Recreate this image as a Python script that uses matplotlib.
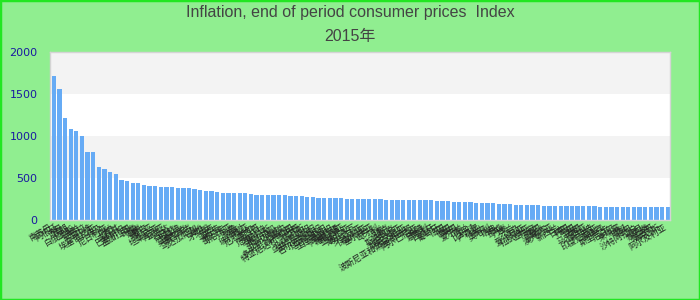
import matplotlib
matplotlib.use('Agg')
import matplotlib.pyplot as plt
from matplotlib.patches import Rectangle

countries = [
    '南苏丹', '阿根廷', '苏丹', '伊朗', '白俄罗斯', '乌克兰', '安哥拉', '马拉维', '埃塞俄比亚', '埃及',
    '尼日利亚', '加纳', '土耳其', '巴基斯坦', '孟加拉国', '印度', '越南', '蒙古', '赞比亚', '坦桑尼亚',
    '肯尼亚', '乌干达', '卢旺达', '布隆迪', '莫桑比克', '津巴布韦', '马达加斯加', '海地', '牙买加', '巴西',
    '乌拉圭', '巴拉圭', '哥伦比亚', '秘鲁', '智利', '玻利维亚', '厄瓜多尔', '墨西哥', '危地马拉', '洪都拉斯',
    '尼加拉瓜', '哥斯达黎加', '巴拿马', '多米尼加共和国', '特立尼达和多巴哥', '俄罗斯', '哈萨克斯坦', '乌兹别克斯坦', '吉尔吉斯斯坦', '塔吉克斯坦',
    '土库曼斯坦', '阿塞拜疆', '格鲁吉亚', '亚美尼亚', '摩尔多瓦', '罗马尼亚', '保加利亚', '塞尔维亚', '匈牙利', '波兰',
    '捷克', '斯洛伐克', '克罗地亚', '斯洛文尼亚', '波斯尼亚和黑塞哥维那', '阿尔巴尼亚', '希腊', '意大利', '西班牙', '葡萄牙',
    '法国', '德国', '英国', '爱尔兰', '荷兰', '比利时', '卢森堡', '瑞士', '奥地利', '瑞典',
    '挪威', '丹麦', '芬兰', '冰岛', '爱沙尼亚', '拉脱维亚', '立陶宛', '美国', '加拿大', '澳大利亚',
    '新西兰', '日本', '韩国', '中国', '泰国', '马来西亚', '新加坡', '印度尼西亚', '菲律宾', '斯里兰卡',
    '尼泊尔', '柬埔寨', '老挝', '缅甸', '沙特阿拉伯', '约旦', '黎巴嫩', '摩洛哥', '突尼斯', '阿尔及利亚',
]

values = [
    1706, 1560, 1217, 1087, 1052, 993, 804, 804, 626, 603,
    567, 544, 473, 461, 437, 437, 414, 406, 406, 390,
    390, 390, 378, 378, 378, 366, 355, 343, 343, 331,
    319, 319, 319, 319, 319, 307, 296, 296, 296, 296,
    296, 296, 284, 284, 284, 272, 272, 260, 260, 260,
    260, 260, 249, 249, 249, 249, 249, 249, 249, 237,
    237, 237, 237, 237, 237, 237, 237, 237, 225, 225,
    225, 213, 213, 213, 213, 201, 201, 201, 201, 189,
    189, 189, 177, 177, 177, 177, 177, 165, 165, 165,
    165, 165, 165, 165, 165, 165, 165, 154, 154, 154,
    154, 154, 154, 154, 154, 154, 154, 154, 154, 154,
]

yticks = [0, 500, 1000, 1500, 2000]

fig = plt.figure(figsize=(7, 3), dpi=100)
fig.patch.set_facecolor('#90ee90')
fig.patches.append(Rectangle((0, 0), 1, 1, transform=fig.transFigure,
                             fill=False, edgecolor='#22e622', linewidth=2.5))

ax = fig.add_axes([50 / 700, 1 - 220 / 300, 620 / 700, (220 - 51.7) / 300])
ax.set_facecolor('white')

# alternating bands
for i in range(len(yticks) - 1):
    if i % 2 == 1:
        ax.axhspan(yticks[i], yticks[i + 1], color='#f3f3f3', zorder=0, lw=0)

x = list(range(len(values)))
ax.bar(x, values, width=0.76, color='#66abf5', zorder=2)

ax.set_xlim(-0.68, len(values) - 1 + 0.4)
ax.set_ylim(0, 2000)
ax.set_yticks(yticks)
ax.tick_params(axis='y', length=0, pad=9, labelsize=8, labelcolor='#1a1aa0')
ax.set_xticks(x)
ax.set_xticklabels(countries, rotation=30, ha='right', fontsize=6,
                   family=['Noto Sans CJK SC', 'DejaVu Sans'], color='#222222')
ax.tick_params(axis='x', length=0, pad=2)

for s in ax.spines.values():
    s.set_color('#d4d4d4')
    s.set_linewidth(1)

fig.text(0.5, 1 - 13 / 300, 'Inflation, end of period consumer prices  Index',
         ha='center', va='center', fontsize=11.5, color='#444444',
         family=['Liberation Sans', 'DejaVu Sans'])
fig.text(0.5, 1 - 37 / 300, '2015年', ha='center', va='center', fontsize=11.5,
         color='#444444', family=['Liberation Sans', 'Noto Sans CJK SC'])

fig.savefig('out.png', dpi=100, facecolor=fig.get_facecolor())
